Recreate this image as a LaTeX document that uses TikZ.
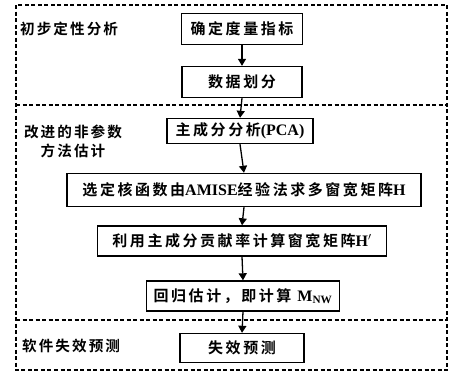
\documentclass[tikz,border=0pt]{standalone}
\usepackage{fontspec}
\setmainfont{Liberation Serif}
\newfontfamily\cjk{Noto Sans CJK SC}[BoldFont={* Bold},LetterSpace=17]
\newfontfamily\cjklbl{Noto Sans CJK SC}[BoldFont={* Bold},LetterSpace=14]
\newcommand{\lat}[1]{{\rmfamily\bfseries\fontsize{16}{16}\selectfont #1}}
\usetikzlibrary{arrows.meta}
\begin{document}
\begin{tikzpicture}[x=1pt,y=-1pt,
  stepbox/.style={draw,line width=1.4pt,minimum height=31pt,inner sep=0pt,font=\cjk\bfseries\fontsize{15}{16}\selectfont},
  lbl/.style={font=\cjklbl\bfseries\fontsize{14.6}{19}\selectfont,align=center,inner sep=0pt},
  frame/.style={dashed,line width=1.1pt,dash pattern=on 4pt off 2.5pt},
  arr/.style={line width=1.3pt,-{Triangle[length=7pt,width=8pt]}}]
\useasboundingbox (0,0) rectangle (450,373);
% dashed frames
\draw[frame] (16,5) rectangle (447,370);
\draw[frame] (16,105) -- (447,105);
\draw[frame] (16,320) -- (447,320);
% labels
\node[lbl,anchor=west] (l1) at (20,29) {初步定性分析};
\node[lbl] (l2) at (73,141) {改进的非参数\\方法估计};
\node[lbl,anchor=west] (l3) at (22,346) {软件失效预测};
% boxes
\node[stepbox,minimum width=121pt] (b1) at (242,29) {确定度量指标};
\node[stepbox,minimum width=120pt] (b2) at (242,82) {数据划分};
\node[stepbox,minimum width=146pt,minimum height=25pt] (b3) at (240,131) {主成分分析\lat{(PCA)}};
\node[stepbox,minimum width=354pt,minimum height=33pt] (b4) at (244,190) {选定核函数由\lat{AMISE}经验法求多窗宽矩阵\lat{H}};
\node[stepbox,minimum width=289pt,minimum height=30pt] (b5) at (242,241) {利用主成分贡献率计算窗宽矩阵\lat{H$'$}};
\node[stepbox,minimum width=193pt,minimum height=30pt] (b6) at (243,296) {回归估计，即计算 \lat{M\textsubscript{NW}}};
\node[stepbox,minimum width=124pt,minimum height=29pt] (b7) at (242,348) {失效预测};
% arrows
\draw[arr] (b1.south) -- (b2.north);
\draw[arr] (b2.south) -- (b3.north);
\draw[arr] (b3.south) -- (b4.north);
\draw[arr] (b4.south) -- (b5.north);
\draw[arr] (b5.south) -- (b6.north);
\draw[arr] (b6.south) -- (b7.north);
\end{tikzpicture}
\end{document}
